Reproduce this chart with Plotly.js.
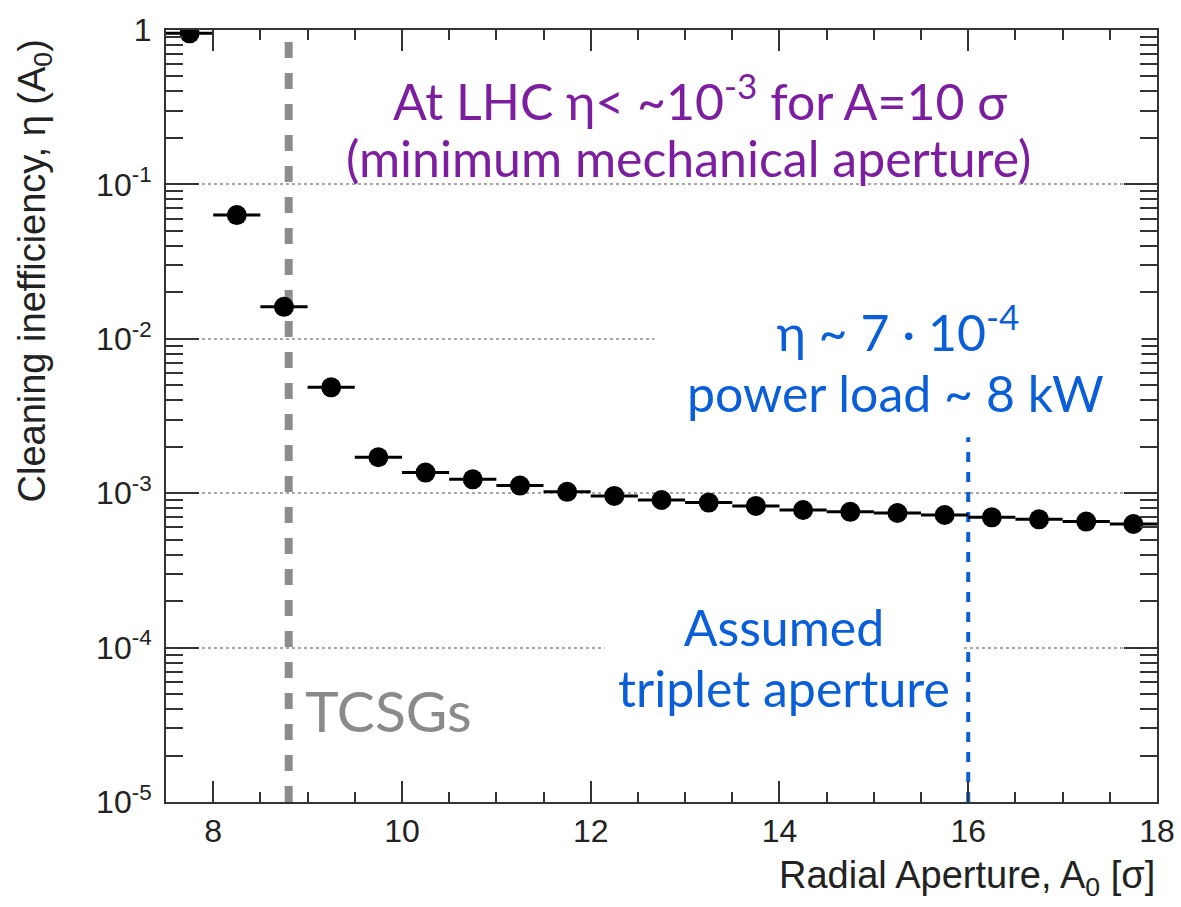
<!DOCTYPE html>
<html>
<head>
<meta charset="utf-8">
<script src="https://cdn.plot.ly/plotly-3.0.1.min.js"></script>
<style>
  html, body { margin: 0; padding: 0; background: #ffffff; }
  #chart { width: 1181px; height: 907px; }
</style>
</head>
<body>
<div id="chart"></div>
<script>
// Bin centres of the radial aperture scan [sigma]
const apertureSigma = [7.75, 8.25, 8.75, 9.25, 9.75, 10.25, 10.75, 11.25, 11.75, 12.25, 12.75,
                       13.25, 13.75, 14.25, 14.75, 15.25, 15.75, 16.25, 16.75, 17.25, 17.75];
// Cleaning inefficiency eta(A0) for each bin
const inefficiency = [0.951, 0.0633, 0.0161, 0.00485, 0.00171, 0.00136, 0.00123, 0.00112, 0.00102,
                      0.00096, 0.000904, 0.000869, 0.000827, 0.000778, 0.000757, 0.000744,
                      0.000722, 0.000698, 0.000677, 0.000655, 0.000632];
// Half bin width, drawn as horizontal error bars
const binHalfWidth = 0.25;

// Axis ticks
const xTickVals = [8, 10, 12, 14, 16, 18];
const yTickVals = [1e-5, 1e-4, 1e-3, 1e-2, 1e-1, 1];
const yTickText = ['10<sup>-5</sup>', '10<sup>-4</sup>', '10<sup>-3</sup>', '10<sup>-2</sup>', '10<sup>-1</sup>', '1'];

// Reference apertures
const tcsgAperture = 8.8;
const tripletAperture = 16;
const tripletMarkerTop = 2.3e-3;

const axisColor = '#333333';
const tickFont = { family: 'Liberation Sans, Arial, sans-serif', size: 32, color: '#222222' };
const labelFont = { family: 'Liberation Sans, Arial, sans-serif', size: 38, color: '#222222' };
const purple = '#7d1ea0';
const blue = '#0a5fd8';
const noteFamily = 'Lato, "Open Sans", sans-serif';
const noteSize = 50;

const traces = [
  {
    x: [tcsgAperture, tcsgAperture], y: [yTickVals[0], yTickVals[yTickVals.length - 1]],
    mode: 'lines', line: { color: '#8c8c8c', width: 8, dash: '16px,15px' },
    hoverinfo: 'skip', showlegend: false
  },
  {
    x: [tripletAperture, tripletAperture], y: [yTickVals[0], tripletMarkerTop],
    mode: 'lines', line: { color: blue, width: 4, dash: '10px,10px' },
    hoverinfo: 'skip', showlegend: false
  },
  {
    x: apertureSigma, y: inefficiency,
    mode: 'markers', type: 'scatter',
    marker: { color: '#000000', size: 20 },
    error_x: { type: 'constant', value: binHalfWidth, thickness: 3, width: 0, color: '#000000' },
    showlegend: false
  }
];

function px2paperX(p) { return (p - 166) / 991; }
function px2paperY(p) { return (802 - p) / 772; }

const layout = {
  width: 1181, height: 907,
  margin: { l: 166, r: 24, t: 30, b: 105 },
  paper_bgcolor: '#ffffff', plot_bgcolor: '#ffffff',
  showlegend: false,
  xaxis: {
    range: [7.5, 18],
    tickmode: 'array', tickvals: xTickVals,
    ticks: 'inside', ticklen: 21, tickwidth: 2, tickcolor: axisColor,
    showline: true, linecolor: axisColor, linewidth: 2, mirror: 'ticks',
    showgrid: false, zeroline: false,
    tickfont: tickFont,
    minor: { ticks: 'inside', ticklen: 10, tickwidth: 2, tickcolor: axisColor, dtick: 0.5, tick0: 0, showgrid: false }
  },
  yaxis: {
    type: 'log', range: [-5, 0],
    tickmode: 'array', tickvals: yTickVals, ticktext: yTickText,
    ticks: 'inside', ticklen: 33, tickwidth: 2, tickcolor: axisColor,
    showline: true, linecolor: axisColor, linewidth: 2, mirror: 'ticks',
    showgrid: true, gridcolor: '#a8a8a8', gridwidth: 2, griddash: '3px,3px',
    zeroline: false,
    tickfont: tickFont, ticklabelstandoff: 6,
    minor: { ticks: 'inside', ticklen: 17, tickwidth: 2, tickcolor: axisColor, dtick: 'D1', showgrid: false }
  },
  annotations: [
    { text: 'Cleaning inefficiency, η (A<sub>0</sub>)', xref: 'paper', yref: 'paper',
      x: px2paperX(34), y: px2paperY(38), xanchor: 'center', yanchor: 'top', textangle: -90,
      showarrow: false, font: labelFont },
    { text: 'Radial Aperture, A<sub>0</sub> [σ]', xref: 'paper', yref: 'paper',
      x: 1, y: px2paperY(878), xanchor: 'right', yanchor: 'middle',
      showarrow: false, font: labelFont },
    { text: 'At LHC η&lt; ~10<sup>-3</sup> for A=10 σ', xref: 'paper', yref: 'paper',
      x: px2paperX(700), y: px2paperY(98), xanchor: 'center', yanchor: 'middle',
      showarrow: false, font: { family: noteFamily, size: noteSize, color: purple } },
    { text: '(minimum mechanical aperture)', xref: 'paper', yref: 'paper',
      x: px2paperX(688), y: px2paperY(158), xanchor: 'center', yanchor: 'middle',
      showarrow: false, font: { family: noteFamily, size: noteSize, color: purple } },
    { text: 'η ~ 7 · 10<sup>-4</sup>', xref: 'paper', yref: 'paper',
      x: px2paperX(898), y: px2paperY(328), xanchor: 'center', yanchor: 'middle',
      width: 484, bgcolor: '#ffffff',
      showarrow: false, font: { family: noteFamily, size: noteSize, color: blue } },
    { text: 'power load ~ 8 kW', xref: 'paper', yref: 'paper',
      x: px2paperX(895), y: px2paperY(393), xanchor: 'center', yanchor: 'middle',
      showarrow: false, font: { family: noteFamily, size: noteSize, color: blue } },
    { text: 'Assumed', xref: 'paper', yref: 'paper',
      x: px2paperX(784), y: px2paperY(627), xanchor: 'center', yanchor: 'middle',
      width: 356, bgcolor: '#ffffff',
      showarrow: false, font: { family: noteFamily, size: noteSize, color: blue } },
    { text: 'triplet aperture', xref: 'paper', yref: 'paper',
      x: px2paperX(784), y: px2paperY(688), xanchor: 'center', yanchor: 'middle',
      width: 356, bgcolor: '#ffffff',
      showarrow: false, font: { family: noteFamily, size: noteSize, color: blue } },
    { text: 'TCSGs', xref: 'paper', yref: 'paper',
      x: px2paperX(388), y: px2paperY(710), xanchor: 'center', yanchor: 'middle',
      showarrow: false, font: { family: noteFamily, size: 57, color: '#8a8a8a' } }
  ]
};

Plotly.newPlot('chart', traces, layout, { displayModeBar: false, staticPlot: true });
</script>
</body>
</html>
